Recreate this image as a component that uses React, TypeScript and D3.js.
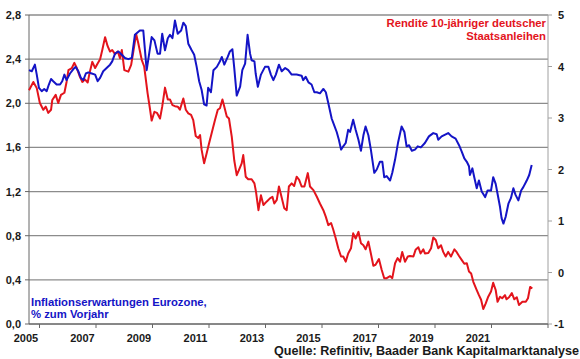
import React from "react";
import * as d3 from "d3";

// Inflationserwartungen Eurozone (% zum Vorjahr) – left axis
const inflDates = [
  2005.0, 2005.09, 2005.19, 2005.25, 2005.32, 2005.41, 2005.49, 2005.57, 2005.64, 2005.71, 2005.78, 2005.89,
  2006.0, 2006.07, 2006.14, 2006.21, 2006.32, 2006.43, 2006.5, 2006.59, 2006.67, 2006.75, 2006.83, 2006.91,
  2007.02, 2007.13, 2007.21, 2007.29, 2007.39, 2007.5, 2007.61, 2007.68, 2007.77, 2007.88, 2007.99,
  2008.09, 2008.2, 2008.31, 2008.41, 2008.57, 2008.68, 2008.79, 2008.95,
  2009.04, 2009.14, 2009.22, 2009.29, 2009.38, 2009.47, 2009.54, 2009.62, 2009.7, 2009.79, 2009.9, 2009.97,
  2010.05, 2010.13, 2010.24, 2010.32, 2010.4, 2010.48, 2010.56, 2010.64, 2010.72, 2010.77, 2010.86, 2010.94,
  2011.05, 2011.15, 2011.21, 2011.29, 2011.4, 2011.47, 2011.55, 2011.61, 2011.69, 2011.8, 2011.87, 2011.96,
  2012.04, 2012.12, 2012.17, 2012.26, 2012.3, 2012.37, 2012.47, 2012.6, 2012.71, 2012.79, 2012.87, 2012.95,
  2013.05, 2013.14, 2013.25, 2013.35, 2013.46, 2013.62, 2013.78, 2013.83, 2013.91,
  2014.0, 2014.1, 2014.19, 2014.27, 2014.37, 2014.48, 2014.56, 2014.64, 2014.75, 2014.83, 2014.91, 2014.98,
  2015.05, 2015.12, 2015.2, 2015.28, 2015.34, 2015.44, 2015.52, 2015.61, 2015.69, 2015.77, 2015.84, 2015.93,
  2016.01, 2016.12, 2016.2, 2016.3, 2016.38, 2016.44, 2016.52, 2016.63, 2016.7, 2016.79, 2016.89,
  2017.0, 2017.09, 2017.16, 2017.24, 2017.33, 2017.43, 2017.52, 2017.62, 2017.75, 2017.88,
  2018.02, 2018.13, 2018.18, 2018.29, 2018.5, 2018.61, 2018.74, 2018.85, 2018.94,
  2019.02, 2019.1, 2019.17, 2019.2, 2019.28, 2019.34, 2019.42, 2019.49, 2019.58, 2019.69, 2019.77, 2019.88, 2019.95,
  2020.03, 2020.09, 2020.17, 2020.22, 2020.28, 2020.35, 2020.44, 2020.52, 2020.6, 2020.67, 2020.76, 2020.85, 2020.92,
  2021.03, 2021.11, 2021.19,
];
const inflValues = [
  2.3, 2.29, 2.35, 2.26, 2.14, 2.11, 2.13, 2.11, 2.17, 2.22, 2.2, 2.17,
  2.17, 2.2, 2.26, 2.21, 2.27, 2.31, 2.33, 2.29, 2.23, 2.21, 2.27, 2.28,
  2.27, 2.26, 2.2, 2.23, 2.29, 2.32, 2.35, 2.38, 2.45, 2.47, 2.44,
  2.41, 2.4, 2.41, 2.62, 2.66, 2.66, 2.3, 2.6,
  2.57, 2.45, 2.45, 2.63, 2.48, 2.59, 2.62, 2.59, 2.75, 2.63, 2.66, 2.73,
  2.7, 2.54, 2.48, 2.44, 2.33, 2.2, 2.12, 1.99, 1.98, 2.14, 2.1, 2.3,
  2.33, 2.38, 2.42, 2.35, 2.42, 2.47, 2.49, 2.32, 2.07, 2.15, 2.3, 2.36,
  2.62, 2.45, 2.39, 2.38, 2.27, 2.15, 2.26, 2.33, 2.33, 2.26, 2.21, 2.26,
  2.35, 2.29, 2.32, 2.3, 2.26, 2.26, 2.25, 2.21, 2.24,
  2.19, 2.17, 2.1, 2.1, 2.09, 2.13, 2.1, 2.0, 1.86, 1.8, 1.74, 1.67,
  1.58, 1.61, 1.64, 1.76, 1.74, 1.85, 1.76, 1.67, 1.57, 1.71, 1.79, 1.71,
  1.58, 1.37, 1.4, 1.47, 1.47, 1.33, 1.34, 1.3, 1.37, 1.49, 1.65,
  1.79, 1.74, 1.61, 1.62, 1.57, 1.58, 1.61, 1.6, 1.64, 1.7,
  1.73, 1.72, 1.67, 1.7, 1.73, 1.7, 1.68, 1.62, 1.56,
  1.5, 1.47, 1.43, 1.35, 1.41, 1.33, 1.23, 1.3, 1.2, 1.15, 1.21, 1.21, 1.33,
  1.27, 1.18, 1.06, 0.96, 0.91, 0.97, 1.09, 1.14, 1.23, 1.17, 1.12, 1.21, 1.24,
  1.3, 1.35, 1.44,
];

// Rendite 10-jähriger deutscher Staatsanleihen (%) – right axis
const yieldDates = [
  2005.0, 2005.14, 2005.25, 2005.35, 2005.46, 2005.54, 2005.62, 2005.71, 2005.75, 2005.86, 2005.94,
  2006.03, 2006.14, 2006.21, 2006.27, 2006.38, 2006.46, 2006.54, 2006.64, 2006.72, 2006.8, 2006.89, 2006.96,
  2007.04, 2007.13, 2007.21, 2007.29, 2007.36, 2007.45, 2007.53, 2007.61, 2007.68, 2007.77, 2007.86, 2007.93, 2007.99,
  2008.07, 2008.2, 2008.29, 2008.36, 2008.45, 2008.52, 2008.63, 2008.71, 2008.82, 2008.9, 2008.95,
  2009.04, 2009.12, 2009.22, 2009.29, 2009.38, 2009.47, 2009.54, 2009.62, 2009.7, 2009.79, 2009.86, 2009.97,
  2010.05, 2010.13, 2010.22, 2010.29, 2010.37, 2010.45, 2010.51, 2010.56, 2010.64, 2010.72, 2010.8, 2010.88, 2010.99,
  2011.08, 2011.15, 2011.23, 2011.29, 2011.37, 2011.44, 2011.53, 2011.61, 2011.69, 2011.76, 2011.85, 2011.9, 2011.98,
  2012.06, 2012.17, 2012.26, 2012.31, 2012.39, 2012.47, 2012.55, 2012.66, 2012.76, 2012.84, 2012.9, 2012.98,
  2013.05, 2013.12, 2013.22, 2013.3, 2013.37, 2013.46, 2013.54, 2013.62, 2013.7, 2013.78, 2013.87, 2013.98,
  2014.05, 2014.16, 2014.27, 2014.37, 2014.48, 2014.56, 2014.64, 2014.73, 2014.8, 2014.88, 2014.96,
  2015.05, 2015.12, 2015.2, 2015.28, 2015.37, 2015.44, 2015.52, 2015.61, 2015.69, 2015.77, 2015.84, 2015.93,
  2016.01, 2016.09, 2016.16, 2016.27, 2016.36, 2016.44, 2016.52, 2016.63, 2016.7, 2016.79, 2016.87, 2016.95,
  2017.02, 2017.11, 2017.2, 2017.27, 2017.38, 2017.45, 2017.54, 2017.61, 2017.7, 2017.75, 2017.86, 2017.95,
  2018.02, 2018.1, 2018.18, 2018.27, 2018.34, 2018.42, 2018.5, 2018.59, 2018.7, 2018.77, 2018.85, 2018.94,
  2019.02, 2019.1, 2019.17, 2019.24, 2019.31, 2019.42, 2019.49, 2019.56, 2019.63, 2019.71, 2019.79, 2019.88, 2019.95,
  2020.03, 2020.09, 2020.17, 2020.24, 2020.33, 2020.38, 2020.46, 2020.55, 2020.63, 2020.71, 2020.78, 2020.89,
  2021.0, 2021.07, 2021.14, 2021.21,
];
const yieldValues = [
  3.54, 3.7, 3.58, 3.29, 3.16, 3.22, 3.1, 3.16, 3.35, 3.45, 3.29,
  3.45, 3.49, 3.7, 3.93, 3.97, 4.07, 3.97, 3.8, 3.7, 3.75, 3.69, 3.9,
  4.09, 3.97, 4.06, 4.14, 4.32, 4.57, 4.4, 4.29, 4.32, 4.24, 4.29, 4.16, 4.32,
  3.93, 3.9, 4.03, 4.29, 4.63, 4.45, 4.13, 4.0, 3.48, 3.16, 2.95,
  3.12, 3.1, 2.99, 3.22, 3.59, 3.36, 3.36, 3.25, 3.23, 3.22, 3.16, 3.38,
  3.16, 3.09, 3.06, 2.96, 2.65, 2.61, 2.67, 2.38, 2.12, 2.31, 2.51, 2.7, 2.96,
  3.16, 3.19, 3.36, 3.22, 3.03, 2.99, 2.64, 2.18, 1.89, 1.99, 2.12, 2.28, 1.86,
  1.81, 1.81, 1.73, 1.57, 1.21, 1.5, 1.31, 1.38, 1.44, 1.47, 1.34, 1.41,
  1.67, 1.5, 1.25, 1.21, 1.67, 1.73, 1.68, 1.86, 1.8, 1.67, 1.67, 1.93,
  1.67, 1.6, 1.47, 1.34, 1.21, 1.08, 0.92, 0.96, 0.83, 0.66, 0.47,
  0.31, 0.31, 0.21, 0.37, 0.47, 0.76, 0.66, 0.79, 0.57, 0.53, 0.45, 0.6,
  0.37, 0.13, 0.15, 0.26, 0.05, -0.11, -0.11, -0.07, -0.11, 0.18, 0.28, 0.21,
  0.4, 0.21, 0.31, 0.32, 0.31, 0.44, 0.49, 0.37, 0.45, 0.37, 0.38, 0.47,
  0.68, 0.63, 0.47, 0.53, 0.4, 0.31, 0.4, 0.31, 0.45, 0.4, 0.32, 0.24,
  0.17, 0.18, 0.02, -0.02, -0.18, -0.34, -0.44, -0.53, -0.71, -0.6, -0.47, -0.37, -0.2,
  -0.34, -0.57, -0.47, -0.5, -0.44, -0.52, -0.48, -0.4, -0.52, -0.48, -0.63, -0.57,
  -0.57, -0.5, -0.28, -0.31,
];

const leftTicks = [0, 0.4, 0.8, 1.2, 1.6, 2.0, 2.4, 2.8];
const rightTicks = [-1, 0, 1, 2, 3, 4, 5];
const xLabels = ["2005", "2007", "2009", "2011", "2013", "2015", "2017", "2019", "2021"];

const blueLegend = ["Inflationserwartungen Eurozone,", "% zum Vorjahr"];
const redLegend = ["Rendite 10-jähriger deutscher", "Staatsanleihen"];
const sourceText = "Quelle: Refinitiv, Baader Bank Kapitalmarktanalyse";

const BLUE = "#1414c6";
const RED = "#e3141c";
const FONT = "'Liberation Sans', Arial, sans-serif";

export default function App() {
  const W = 580;
  const H = 359;
  const left = 29;
  const right = 548;
  const top = 15;
  const bottom = 324;

  const x = d3.scaleLinear().domain([2005, 2021.715]).range([left, right]);
  const yL = d3.scaleLinear().domain([0, 2.8]).range([bottom, top]);
  const yR = d3.scaleLinear().domain([-1, 5]).range([bottom, top]);
  const xAxis = d3.scaleLinear().domain([0, 9]).range([39.5, right]);

  const infl = inflDates.map((d, i) => [d, inflValues[i]] as [number, number]);
  const yld = yieldDates.map((d, i) => [d, yieldValues[i]] as [number, number]);

  const lineL = d3.line<[number, number]>().x((d) => x(d[0])).y((d) => yL(d[1]));
  const lineR = d3.line<[number, number]>().x((d) => x(d[0])).y((d) => yR(d[1]));

  const fmtL = (v: number) => d3.format(".1f")(v).replace(".", ",");
  const xTickIdx = d3.range(0, 10);

  return (
    <svg
      width={W}
      height={H}
      style={{ position: "absolute", left: 0, top: 0, background: "#fff" }}
      fontFamily={FONT}
    >
      <rect x={0} y={0} width={W} height={H} fill="#fff" />
      {/* gridlines */}
      {leftTicks.map((t) => (
        <line key={"g" + t} x1={left} x2={right} y1={yL(t)} y2={yL(t)} stroke="#8c8c8c" strokeWidth={1.3} />
      ))}
      {/* right axis line */}
      <line x1={right} x2={right} y1={top} y2={bottom} stroke="#a0a0a0" strokeWidth={1} />
      {/* left axis line */}
      <line x1={left} x2={left} y1={top} y2={bottom} stroke="#666" strokeWidth={1} />
      {/* left ticks */}
      {leftTicks.map((t) => (
        <g key={"l" + t}>
          <line x1={left - 4} x2={left} y1={yL(t)} y2={yL(t)} stroke="#666" strokeWidth={1} />
          <text x={21} y={yL(t) + 4} textAnchor="end" fontSize={11} fontWeight="bold" fill="#1a1a1a">
            {fmtL(t)}
          </text>
        </g>
      ))}
      {/* right ticks */}
      {rightTicks.map((t) => (
        <g key={"r" + t}>
          <line x1={right} x2={right + 4} y1={yR(t)} y2={yR(t)} stroke="#a0a0a0" strokeWidth={1} />
          <text x={564} y={yR(t) + 4} textAnchor="end" fontSize={11} fontWeight="bold" fill="#1a1a1a">
            {t}
          </text>
        </g>
      ))}
      {/* bottom axis */}
      <line x1={left} x2={right} y1={bottom} y2={bottom} stroke="#666" strokeWidth={1} />
      {xTickIdx.map((i) => (
        <line key={"xt" + i} x1={xAxis(i)} x2={xAxis(i)} y1={bottom} y2={bottom + 4} stroke="#666" strokeWidth={1} />
      ))}
      {xLabels.map((lab, i) => (
        <text key={lab} x={xAxis(i) - 13.5} y={342} textAnchor="middle" fontSize={11} fontWeight="bold" fill="#1a1a1a">
          {lab}
        </text>
      ))}
      {/* series */}
      <path d={lineR(yld) || ""} fill="none" stroke={RED} strokeWidth={2} strokeLinejoin="round" />
      <path d={lineL(infl) || ""} fill="none" stroke={BLUE} strokeWidth={2} strokeLinejoin="round" />
      {/* legends */}
      {blueLegend.map((s, i) => (
        <text key={s} x={31} y={306 + i * 12} fontSize={11.3} fontWeight="bold" fill={BLUE}>
          {s}
        </text>
      ))}
      {redLegend.map((s, i) => (
        <text key={s} x={546} y={27 + i * 12.5} textAnchor="end" fontSize={11.3} fontWeight="bold" fill={RED}>
          {s}
        </text>
      ))}
      <text
        x={579}
        y={355}
        textAnchor="end"
        fontSize={12}
        fontWeight="bold"
        fill="#1a1a1a"
        textLength={305}
        lengthAdjust="spacingAndGlyphs"
      >
        {sourceText}
      </text>
    </svg>
  );
}
